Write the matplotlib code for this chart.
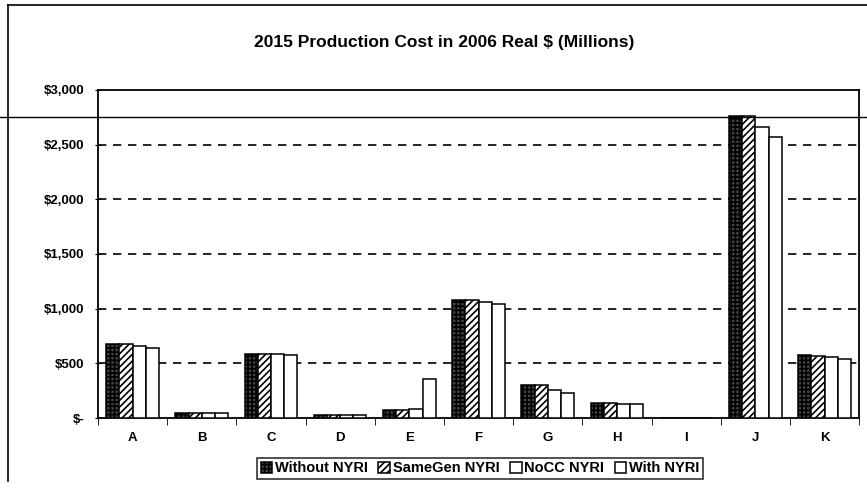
import matplotlib.pyplot as plt
import numpy as np
from matplotlib.lines import Line2D

plt.rcParams['font.family'] = ['Liberation Sans', 'DejaVu Sans']
plt.rcParams['hatch.linewidth'] = 1.2

categorias = ['A', 'B', 'C', 'D', 'E', 'F', 'G', 'H', 'I', 'J', 'K']
series = ['Without NYRI', 'SameGen NYRI', 'NoCC NYRI', 'With NYRI']
without_nyri = [680, 45, 590, 30, 75, 1080, 300, 135, 0, 2760, 575]
samegen_nyri = [680, 45, 590, 30, 75, 1080, 300, 135, 0, 2760, 570]
nocc_nyri = [655, 45, 585, 30, 80, 1060, 260, 130, 0, 2660, 555]
with_nyri = [640, 45, 575, 30, 360, 1045, 230, 130, 0, 2570, 540]
yticks = [0, 500, 1000, 1500, 2000, 2500, 3000]
yticklabels = ['$-', '$500', '$1,000', '$1,500', '$2,000', '$2,500', '$3,000']

fig = plt.figure(figsize=(8.67, 4.96), dpi=100)
ax = fig.add_axes([0.113, 0.157, 0.878, 0.662])

x = np.arange(len(categorias))
w = 0.19
estilos = [
    dict(facecolor='#444444', hatch='++++', edgecolor='black'),
    dict(facecolor='white', hatch='/////', edgecolor='black'),
    dict(facecolor='white', hatch='', edgecolor='black'),
    dict(facecolor='white', hatch='', edgecolor='black'),
]
valores = [without_nyri, samegen_nyri, nocc_nyri, with_nyri]
for k, (vals, est, nombre) in enumerate(zip(valores, estilos, series)):
    ax.bar(x + (k - 1.5) * w, vals, width=w, linewidth=1.1, label=nombre,
           zorder=3, **est)

ax.set_xlim(-0.5, len(categorias) - 0.5)
ax.set_ylim(0, 3000)
ax.set_yticks(yticks)
ax.set_yticklabels(yticklabels, fontsize=9.5, fontweight='bold')
ax.set_xticks(x)
ax.set_xticklabels(categorias, fontsize=9.5, fontweight='bold')
ax.tick_params(axis='x', length=0, pad=10)
ax.set_xticks(np.arange(len(categorias) + 1) - 0.5, minor=True)
ax.tick_params(axis='x', which='minor', length=5, direction='out')
ax.tick_params(axis='y', length=4, direction='inout', pad=8)
for yv in yticks[1:-1]:
    ax.axhline(yv, color='black', linestyle=(0, (5, 4)), linewidth=1.2, zorder=1)
for s in ax.spines.values():
    s.set_linewidth(1.3)

fig.text(0.512, 0.915, '2015 Production Cost in 2006 Real $ (Millions)',
         fontsize=12.5, fontweight='bold', ha='center', va='center')

leg = ax.legend(loc='upper center', bbox_to_anchor=(0.502, -0.098), ncol=4,
                fontsize=10.5, frameon=True, fancybox=False, edgecolor='black',
                handlelength=0.8, handleheight=0.8, handletextpad=0.2,
                columnspacing=0.7, borderpad=0.25)
leg.get_frame().set_linewidth(1.2)
for t in leg.get_texts():
    t.set_fontweight('bold')

# borde escaneado
fig.add_artist(Line2D([0.009, 0.009], [0.03, 0.99], transform=fig.transFigure, color='black', lw=1.2))
fig.add_artist(Line2D([0.009, 1.0], [0.99, 0.99], transform=fig.transFigure, color='black', lw=1.2))
fig.add_artist(Line2D([0.0, 1.0], [0.764, 0.764], transform=fig.transFigure, color='black', lw=1.0))

plt.savefig('out.png', dpi=100)
